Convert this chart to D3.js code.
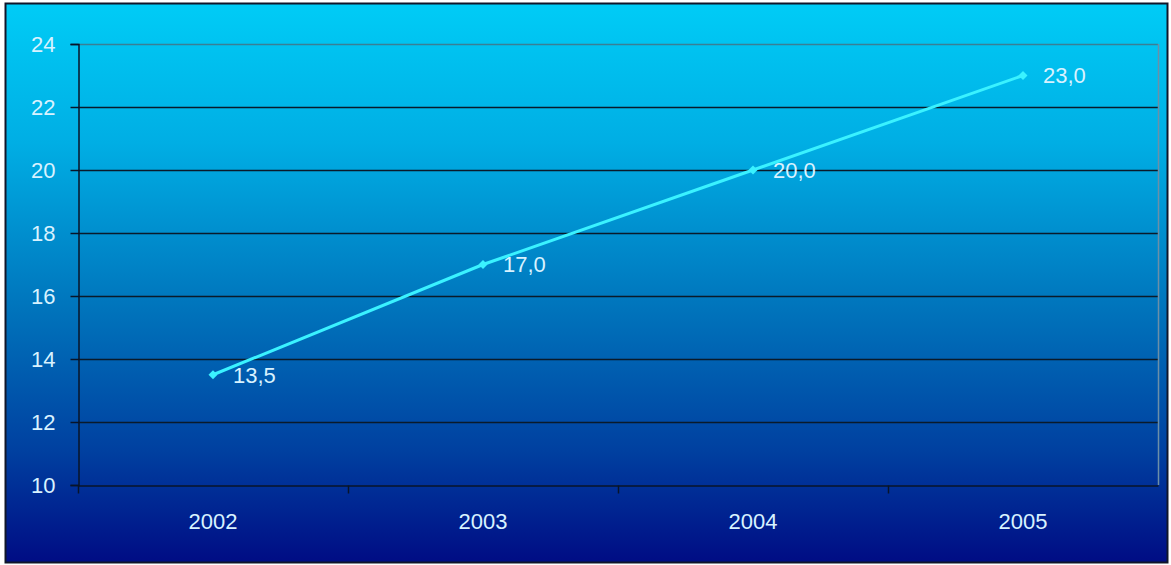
<!DOCTYPE html>
<html>
<head>
<meta charset="utf-8">
<script src="https://cdn.jsdelivr.net/npm/d3@7"></script>
<style>
  html, body { margin: 0; padding: 0; background: #fff; }
  svg { display: block; }
  text { font-family: Arial, "Liberation Sans", sans-serif; }
</style>
</head>
<body>
<div class="chart"></div>
<script>
'use strict';

var years = ['2002', '2003', '2004', '2005'];
var values = [13.5, 17.0, 20.0, 23.0];
var yTicks = [10, 12, 14, 16, 18, 20, 22, 24];

var width = 1171, height = 565;
var plot = { left: 78, right: 1158, top: 44, bottom: 485 };
var labelColor = '#d8f2ff';

var svg = d3.select('.chart').append('svg')
	.attr('width', width).attr('height', height);

var defs = svg.append('defs');
var grad = defs.append('linearGradient')
	.attr('id', 'bg').attr('x1', 0).attr('y1', 0).attr('x2', 0).attr('y2', 1);
grad.append('stop').attr('offset', '0%').attr('stop-color', '#00ccf6');
grad.append('stop').attr('offset', '25%').attr('stop-color', '#00aee4');
grad.append('stop').attr('offset', '55%').attr('stop-color', '#0073bb');
grad.append('stop').attr('offset', '80%').attr('stop-color', '#0040a0');
grad.append('stop').attr('offset', '100%').attr('stop-color', '#000c84');

// background and frame
svg.append('rect')
	.attr('x', 0).attr('y', 0).attr('width', width).attr('height', height)
	.attr('fill', '#fff');
svg.append('rect')
	.attr('x', 5.5).attr('y', 3.5).attr('width', width - 9).attr('height', height - 6)
	.attr('fill', 'url(#bg)')
	.attr('stroke', '#10162a').attr('stroke-width', 2);

var x = d3.scaleBand().domain(years).range([plot.left, plot.right]);
var y = d3.scaleLinear().domain([10, 24]).range([plot.bottom, plot.top]);

// gridlines
svg.append('g').selectAll('line')
	.data(yTicks.filter(function(d) { return d > 10; }))
	.enter().append('line')
	.attr('x1', plot.left).attr('x2', plot.right)
	.attr('y1', function(d) { return Math.round(y(d)) + 0.5; })
	.attr('y2', function(d) { return Math.round(y(d)) + 0.5; })
	.attr('stroke', function(d) { return d === 24 ? '#3a7f95' : '#0a1a2a'; })
	.attr('stroke-width', 1.5);

// right border of plot area
svg.append('line')
	.attr('x1', plot.right + 0.5).attr('x2', plot.right + 0.5)
	.attr('y1', plot.top).attr('y2', plot.bottom)
	.attr('stroke', '#6c8fa8').attr('stroke-width', 1.5);

// y axis
var yAxis = svg.append('g')
	.attr('transform', 'translate(' + (plot.left + 0.5) + ',0)')
	.call(d3.axisLeft(y).tickValues(yTicks).tickSize(8).tickPadding(15));
yAxis.attr('font-size', null).attr('font-family', null);
yAxis.select('.domain').attr('stroke', '#081428').attr('stroke-width', 1.5);
yAxis.selectAll('.tick line').attr('stroke', '#081428').attr('stroke-width', 1.5);
yAxis.selectAll('text').attr('fill', labelColor).style('font-size', '22px');

// x axis
var xAxis = svg.append('g')
	.attr('transform', 'translate(0,' + (plot.bottom + 0.5) + ')')
	.call(d3.axisBottom(x).tickSize(0).tickPadding(28));
xAxis.attr('font-size', null).attr('font-family', null);
xAxis.select('.domain').attr('stroke', '#081428').attr('stroke-width', 1.5);
xAxis.selectAll('text').attr('fill', labelColor).style('font-size', '22px');

// tick marks between categories
xAxis.selectAll('line.sep')
	.data(years)
	.enter().append('line')
	.attr('class', 'sep')
	.attr('x1', function(d) { return x(d) + 0.5; })
	.attr('x2', function(d) { return x(d) + 0.5; })
	.attr('y1', 0).attr('y2', 8)
	.attr('stroke', '#081428').attr('stroke-width', 1.5);

// line
var cx = function(i) { return x(years[i]) + x.bandwidth() / 2; };
var line = d3.line()
	.x(function(d, i) { return cx(i); })
	.y(function(d) { return y(d); });

svg.append('path')
	.datum(values)
	.attr('d', line)
	.attr('fill', 'none')
	.attr('stroke', '#3af2ff')
	.attr('stroke-width', 3);

svg.append('g').selectAll('path')
	.data(values)
	.enter().append('path')
	.attr('d', d3.symbol().type(d3.symbolSquare).size(40))
	.attr('transform', function(d, i) {
		return 'translate(' + cx(i) + ',' + y(d) + ') rotate(45)';
	})
	.attr('fill', '#3af2ff');

// value labels
svg.append('g').selectAll('text')
	.data(values)
	.enter().append('text')
	.attr('x', function(d, i) { return cx(i) + 20; })
	.attr('y', function(d) { return y(d); })
	.attr('dy', '0.36em')
	.attr('fill', labelColor)
	.style('font-size', '22px')
	.text(function(d) { return d.toFixed(1).replace('.', ','); });
</script>
</body>
</html>
